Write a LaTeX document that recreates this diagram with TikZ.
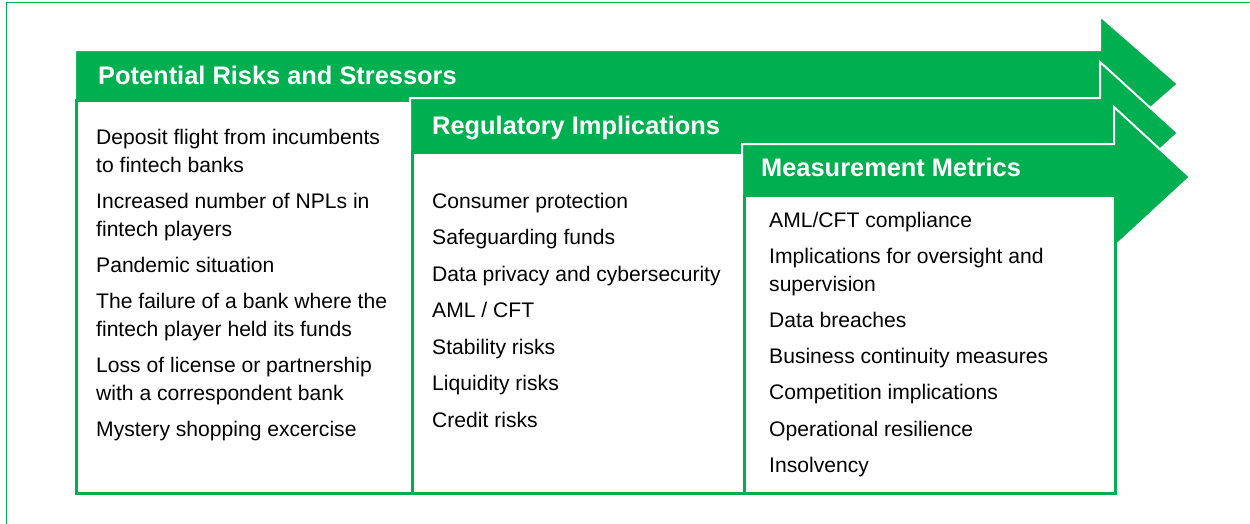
\documentclass[tikz,border=0pt]{standalone}
\usepackage{fontspec}
\setmainfont{Liberation Sans}
\usetikzlibrary{positioning}
\definecolor{stagegreen}{HTML}{00B050}

\begin{document}
\begin{tikzpicture}[%
		x=1pt,
		y=-1pt,
		stagearrow/.style={%
			fill=stagegreen,
			draw=white,
			line width=2pt
		},
		panel/.style={%
			fill=white,
			draw=stagegreen,
			line width=3pt
		},
		heading/.style={%
			anchor=base west,
			inner sep=0pt,
			text=white,
			font=\fontsize{25.4}{30}\selectfont\bfseries
		},
		itemlist/.style={%
			anchor=base west,
			inner sep=0pt,
			align=left,
			font=\fontsize{21.1}{28}\selectfont
		}
		]
		\useasboundingbox (0,0) rectangle (1250,523);
		\draw[stagegreen, line width=1.5pt] (6.5,2.5) rectangle (1280,540);
		
		% stage 1
		\draw[stagearrow] (75,50) -- (1100,50) -- (1100,16) -- (1178,84) -- (1100,152) -- (1100,118) -- (75,118) -- cycle;
		\draw[panel] (76.5,100) rectangle (412,493);
		% stage 2
		\draw[stagearrow] (410,98) -- (1100,98) -- (1100,62) -- (1178,133) -- (1100,204) -- (1100,168) -- (410,168) -- cycle;
		\draw[panel] (412,152) rectangle (744,493);
		% stage 3
		\draw[stagearrow] (742,144) -- (1114,144) -- (1114,107) -- (1190,177) -- (1114,247) -- (1114,210) -- (742,210) -- cycle;
		\draw[panel] (744,195) rectangle (1115,493);
		
		\node[heading] (risks)      at (98,84)   {Potential Risks and Stressors};
		\node[heading] (regulatory) at (432,134) {Regulatory Implications};
		\node[heading] (metrics)    at (761,176) {Measurement Metrics};
		
		% lists are anchored at the baseline of their last line
		\node[itemlist] (risklist) at (96,436) {Deposit flight from incumbents\\
			to fintech banks\\[8pt]
			Increased number of NPLs in\\
			fintech players\\[8pt]
			Pandemic situation\\[8pt]
			The failure of a bank where the\\
			fintech player held its funds\\[8pt]
			Loss of license or partnership\\
			with a correspondent bank\\[8pt]
			Mystery shopping excercise};
		\node[itemlist] (reglist) at (432,427) {Consumer protection\\[8.5pt]
			Safeguarding funds\\[8.5pt]
			Data privacy and cybersecurity\\[8.5pt]
			AML / CFT\\[8.5pt]
			Stability risks\\[8.5pt]
			Liquidity risks\\[8.5pt]
			Credit risks};
		\node[itemlist] (metriclist) at (769,472) {AML/CFT compliance\\[8pt]
			Implications for oversight and\\
			supervision\\[8pt]
			Data breaches\\[8pt]
			Business continuity measures\\[8.5pt]
			Competition implications\\[8.5pt]
			Operational resilience\\[8pt]
			Insolvency};
\end{tikzpicture}
\end{document}
